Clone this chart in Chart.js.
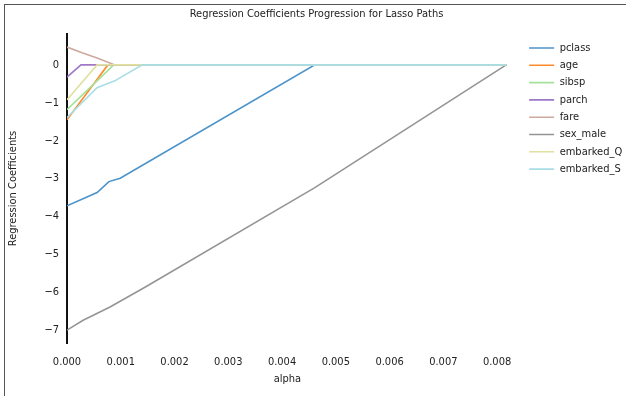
<!DOCTYPE html>
<html lang="en">
<head>
    <meta charset="UTF-8">
    <title>Regression Coefficients Progression for Lasso Paths</title>
    <style>
        body {
            margin: 0;
            background-color: #ffffff;
        }
        .frame {
            position: absolute;
            left: 4px;
            top: 4px;
            width: 640px;
            height: 400px;
            border-top: 1.5px solid #555555;
            border-left: 1.5px solid #555555;
        }
        .wrap {
            position: absolute;
            left: 0;
            top: 0;
            width: 626px;
            height: 396px;
        }
    </style>
</head>
<body>
    <div class="frame"></div>
    <div class="wrap"><canvas id="lassoChart" width="626" height="396"></canvas></div>
    <script src="https://cdn.jsdelivr.net/npm/chart.js"></script>
    <script>
        const features = ['pclass', 'age', 'sibsp', 'parch', 'fare', 'sex_male', 'embarked_Q', 'embarked_S'];
        const lineColors = ['#4b93c9', '#ff8a2a', '#a6e19a', '#9f78c6', '#cdaa9f', '#959595', '#e0e0a0', '#a8dde6'];

        const alphaEnd = 0.00817;
        const xTicks = [0, 0.001, 0.002, 0.003, 0.004, 0.005, 0.006, 0.007, 0.008];
        const yTicks = [0, -1, -2, -3, -4, -5, -6, -7];

        // points along each path (alpha, coefficient)
        const pclassAlpha = [0, 0.00056, 0.00078, 0.00099, 0.00461, alphaEnd];
        const pclassCoef = [-3.72, -3.37, -3.08, -2.99, 0, 0];
        const ageAlpha = [0, 0.00076, alphaEnd];
        const ageCoef = [-1.45, 0, 0];
        const sibspAlpha = [0, 0.00087, alphaEnd];
        const sibspCoef = [-1.18, 0, 0];
        const parchAlpha = [0, 0.00026, alphaEnd];
        const parchCoef = [-0.32, 0, 0];
        const fareAlpha = [0, 0.00028, 0.00056, 0.00089, alphaEnd];
        const fareCoef = [0.47, 0.32, 0.18, 0, 0];
        const sexAlpha = [0, 0.0003, 0.0008, 0.00145, 0.00461, alphaEnd];
        const sexCoef = [-7.0, -6.74, -6.39, -5.87, -3.24, 0];
        const embQAlpha = [0, 0.00056, alphaEnd];
        const embQCoef = [-0.92, 0, 0];
        const embSAlpha = [0, 0.00056, 0.00089, 0.0014, alphaEnd];
        const embSCoef = [-1.39, -0.6, -0.42, 0, 0];

        const alphas = [pclassAlpha, ageAlpha, sibspAlpha, parchAlpha, fareAlpha, sexAlpha, embQAlpha, embSAlpha];
        const coefs = [pclassCoef, ageCoef, sibspCoef, parchCoef, fareCoef, sexCoef, embQCoef, embSCoef];

        Chart.defaults.font.family = "'DejaVu Sans Condensed', 'Liberation Sans Narrow', sans-serif";
        Chart.defaults.font.size = 11;
        Chart.defaults.color = '#222222';

        // later series are drawn on top, like in the original plot
        const datasets = features.map((name, i) => ({
            label: name,
            data: alphas[i].map((a, j) => ({ x: a, y: coefs[i][j] })),
            borderColor: lineColors[i],
            backgroundColor: lineColors[i],
            borderWidth: 1.6,
            pointRadius: 0,
            showLine: true,
            tension: 0,
            order: features.length - i
        }));

        new Chart(document.getElementById('lassoChart'), {
            type: 'scatter',
            data: { datasets: datasets },
            options: {
                responsive: false,
                animation: false,
                layout: { padding: { left: 7, right: 0, top: 0, bottom: 10 } },
                plugins: {
                    title: {
                        display: true,
                        text: 'Regression Coefficients Progression for Lasso Paths',
                        font: { size: 11, weight: 'normal' },
                        color: '#222222',
                        padding: { top: 8, bottom: 12.8 }
                    },
                    legend: {
                        position: 'right',
                        align: 'start',
                        title: {
                            display: true,
                            text: ' ',
                            padding: { top: 23, bottom: 0 }
                        },
                        labels: {
                            boxWidth: 25,
                            boxHeight: 0,
                            padding: 6.3,
                            font: { size: 11 },
                            color: '#222222',
                            sort: (a, b) => a.datasetIndex - b.datasetIndex
                        }
                    },
                    tooltip: { enabled: false }
                },
                scales: {
                    x: {
                        type: 'linear',
                        min: 0,
                        max: 0.0082,
                        afterBuildTicks: s => { s.ticks = xTicks.map(v => ({ value: v })); },
                        afterFit: s => { s.height = 43; },
                        grid: { display: false, drawTicks: false },
                        border: { display: false },
                        ticks: {
                            padding: 13,
                            callback: v => v.toFixed(3)
                        },
                        title: {
                            display: true,
                            text: 'alpha',
                            padding: { top: 0, bottom: 0 }
                        }
                    },
                    y: {
                        min: -7.34,
                        max: 0.816,
                        afterBuildTicks: s => { s.ticks = yTicks.map(v => ({ value: v })); },
                        afterFit: s => { s.width = 60; },
                        grid: { display: false, drawTicks: false },
                        border: { display: true, color: '#111111', width: 2 },
                        ticks: {
                            padding: 8,
                            callback: v => (v < 0 ? '\u2212' + Math.abs(v) : String(v))
                        },
                        title: {
                            display: true,
                            text: 'Regression Coefficients',
                            padding: { top: 0, bottom: 12 }
                        }
                    },
                    // empty spacer between the plot and the legend
                    gap: {
                        type: 'linear',
                        position: 'right',
                        display: true,
                        afterFit: s => { s.width = 15; },
                        grid: { display: false, drawTicks: false },
                        border: { display: false },
                        ticks: { display: false }
                    }
                }
            }
        });
    </script>
</body>
</html>
